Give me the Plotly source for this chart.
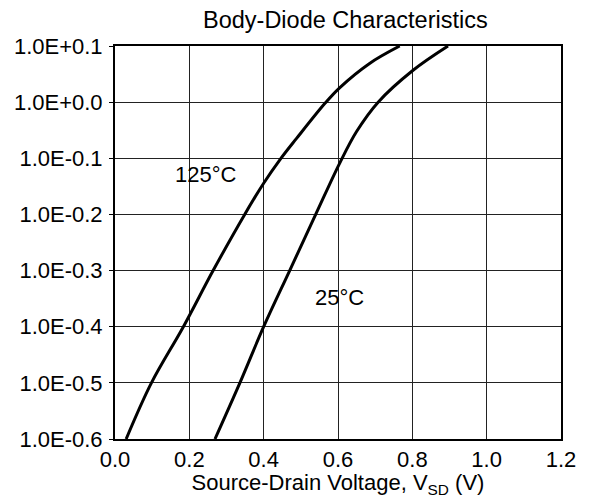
import plotly.graph_objects as go

# Data
vsd_125 = [0.030, 0.098, 0.184, 0.264, 0.349, 0.400, 0.444, 0.488, 0.565, 0.605, 0.685, 0.766]
isd_125 = [1e-6, 1e-5, 1e-4, 1e-3, 1e-2, 3.6e-2, 9.5e-2, 0.224, 0.955, 1.82, 4.9, 10.0]

vsd_25 = [0.269, 0.336, 0.400, 0.470, 0.540, 0.605, 0.650, 0.708, 0.802, 0.896]
isd_25 = [1e-6, 1e-5, 1e-4, 1e-3, 1e-2, 8.3e-2, 0.30, 1.0, 3.7, 10.0]

y_tickvals = [1e-6, 1e-5, 1e-4, 1e-3, 1e-2, 1e-1, 1e0, 1e1]
y_ticktext = ["1.0E-0.6", "1.0E-0.5", "1.0E-0.4", "1.0E-0.3", "1.0E-0.2",
              "1.0E-0.1", "1.0E+0.0", "1.0E+0.1"]
x_tickvals = [0.0, 0.2, 0.4, 0.6, 0.8, 1.0, 1.2]

title_text = "Body-Diode Characteristics"
x_title = "Source-Drain Voltage, V<sub>SD</sub> (V)"
label_125 = "125°C"
label_25 = "25°C"

FONT = "Liberation Sans, Arial, Helvetica, sans-serif"
FS = 22

fig = go.Figure()
fig.add_trace(go.Scatter(x=vsd_125, y=isd_125, mode="lines",
                         line=dict(color="black", width=3, shape="spline", smoothing=1.0),
                         showlegend=False, hoverinfo="skip"))
fig.add_trace(go.Scatter(x=vsd_25, y=isd_25, mode="lines",
                         line=dict(color="black", width=3, shape="spline", smoothing=1.0),
                         showlegend=False, hoverinfo="skip"))

fig.add_annotation(x=0.246, y=-1.29, xref="x", yref="y", text=label_125,
                   showarrow=False, font=dict(family=FONT, size=FS, color="black"))
fig.add_annotation(x=0.605, y=-3.48, xref="x", yref="y", text=label_25,
                   showarrow=False, font=dict(family=FONT, size=FS, color="black"))

fig.add_annotation(x=0.516, y=1.0, xref="paper", yref="paper", yshift=26,
                   text=title_text, showarrow=False, yanchor="middle",
                   font=dict(family=FONT, size=23.5, color="black"))

fig.update_layout(
    width=582, height=490,
    margin=dict(l=107, r=29, t=38, b=59),
    paper_bgcolor="white", plot_bgcolor="white",
    font=dict(family=FONT, size=FS, color="black"),
    xaxis=dict(range=[0, 1.2], tickvals=x_tickvals, tickformat=".1f",
               showgrid=True, gridcolor="#222222", gridwidth=1,
               showline=True, linecolor="black", linewidth=2, mirror=True,
               ticks="", zeroline=False, automargin=False,
               title=dict(text=x_title, standoff=3, font=dict(size=FS)),
               tickfont=dict(size=FS), ticklabelstandoff=0),
    yaxis=dict(type="log", range=[-6, 1], tickvals=y_tickvals, ticktext=y_ticktext,
               showgrid=True, gridcolor="#222222", gridwidth=1,
               showline=True, linecolor="black", linewidth=2, mirror=True,
               ticks="outside", ticklen=4, tickcolor="black", automargin=False,
               tickfont=dict(size=FS), zeroline=False, ticklabelstandoff=2),
)

fig.write_html("out.html")
